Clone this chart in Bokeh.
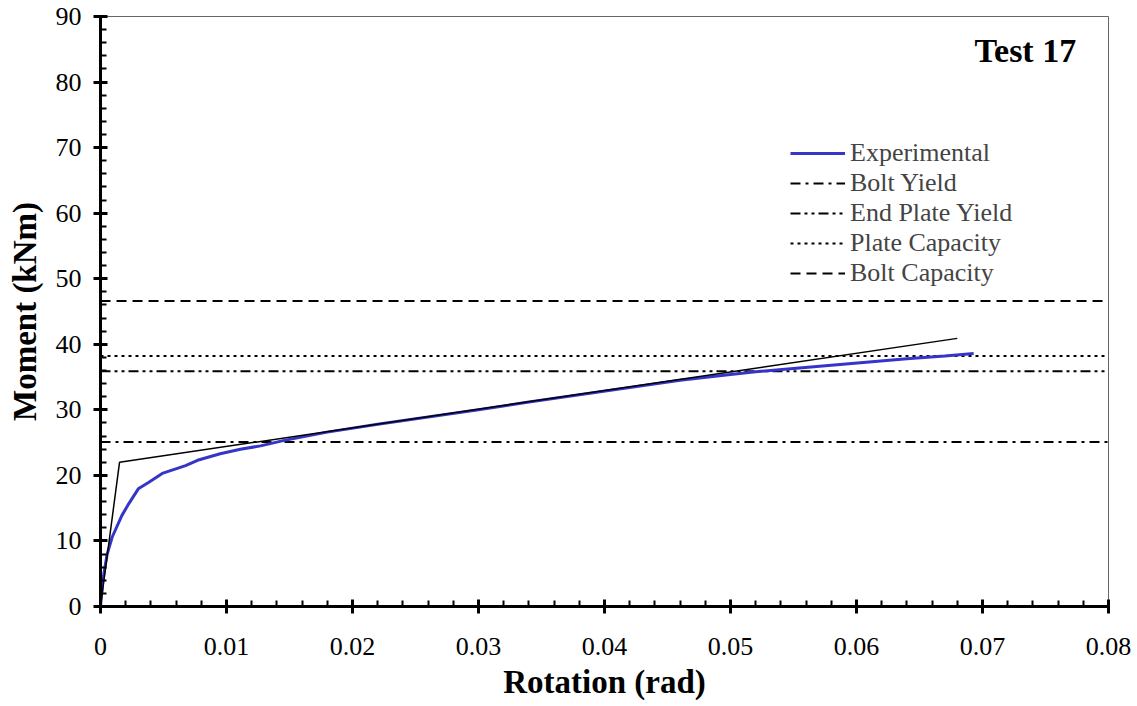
from bokeh.plotting import figure
from bokeh.models import (FixedTicker, Legend, LegendItem, Label, Range1d)
from bokeh.embed import file_html
from bokeh.resources import INLINE

# ---- data ----
exp_rot = [0, 0.00018, 0.00053, 0.00093, 0.0017, 0.00225, 0.003, 0.00384, 0.0049,
           0.00675, 0.0077, 0.0095, 0.0111, 0.0127, 0.0145, 0.018, 0.022, 0.026,
           0.030, 0.034, 0.038, 0.042, 0.046, 0.050, 0.052, 0.055, 0.058, 0.061,
           0.064, 0.067, 0.0693]
exp_mom = [0, 4.0, 8.0, 10.6, 13.9, 15.7, 17.95, 18.96, 20.3,
           21.5, 22.3, 23.3, 24.0, 24.5, 25.3, 26.6, 27.8, 28.9,
           30.0, 31.2, 32.3, 33.4, 34.5, 35.4, 35.8, 36.3, 36.8, 37.3,
           37.8, 38.2, 38.6]

bilin_rot = [0, 0.00151, 0.068]
bilin_mom = [0, 22.0, 40.9]

ref_names = ["Bolt Yield", "End Plate Yield", "Plate Capacity", "Bolt Capacity"]
ref_values = [25.1, 35.9, 38.2, 46.6]
ref_dashes = ["10 5 3 5", "10 4 3 4 3 4", "3 4", "10 6"]

x_ticks = [0, 0.01, 0.02, 0.03, 0.04, 0.05, 0.06, 0.07, 0.08]
x_labels = ["0", "0.01", "0.02", "0.03", "0.04", "0.05", "0.06", "0.07", "0.08"]
y_ticks = [0, 10, 20, 30, 40, 50, 60, 70, 80, 90]

x_min, x_max = 0, 0.08
y_min, y_max = 0, 90

FONT = "Liberation Serif"

p = figure(width=1137, height=706, output_backend="svg", toolbar_location=None,
           x_range=Range1d(x_min, x_max), y_range=Range1d(y_min, y_max),
           min_border_left=100, min_border_right=29, min_border_top=16,
           min_border_bottom=100)
p.background_fill_color = "white"
p.border_fill_color = "white"
p.outline_line_color = "#666666"
p.outline_line_width = 1
p.xgrid.visible = False
p.ygrid.visible = False

# reference lines
ref_renderers = []
for v, d in zip(ref_values, ref_dashes):
    r = p.line([x_min, x_max], [v, v], line_color="black", line_width=2, line_dash=d)
    ref_renderers.append(r)

exp_r = p.line(exp_rot, exp_mom, line_color="#3535c8", line_width=3)
p.line(bilin_rot, bilin_mom, line_color="black", line_width=1.5)

items = [LegendItem(label="Experimental", renderers=[exp_r])]
for n, r in zip(ref_names, ref_renderers):
    items.append(LegendItem(label=n, renderers=[r]))
leg = Legend(items=items, location=(690, 318), border_line_alpha=0,
             background_fill_alpha=0, padding=0, margin=0, spacing=0,
             glyph_width=55, glyph_height=30, label_height=30, label_standoff=5,
             label_text_font=FONT, label_text_font_size="26px")
p.add_layout(leg)

# axes
minor_x = [i * 0.002 for i in range(41)]
minor_y = [i * 2 for i in range(46)]
p.xaxis.ticker = FixedTicker(ticks=x_ticks, minor_ticks=minor_x)
p.yaxis.ticker = FixedTicker(ticks=y_ticks, minor_ticks=minor_y)
p.xaxis.major_label_overrides = {t: l for t, l in zip(x_ticks, x_labels)}

for ax in (p.xaxis[0], p.yaxis[0]):
    ax.axis_line_width = 3
    ax.axis_line_color = "black"
    ax.major_tick_line_width = 3
    ax.major_tick_line_color = "black"
    ax.minor_tick_line_width = 2
    ax.minor_tick_line_color = "black"
    ax.major_tick_in = 7
    ax.major_tick_out = 7
    ax.minor_tick_in = 6
    ax.minor_tick_out = 0
    ax.major_label_text_font = FONT
    ax.major_label_text_font_size = "26px"
    ax.major_label_text_color = "black"
    ax.axis_label_text_font = FONT
    ax.axis_label_text_font_size = "33px"
    ax.axis_label_text_font_style = "bold"
    ax.axis_label_text_color = "black"

p.xaxis.axis_label = "Rotation (rad)"
p.yaxis.axis_label = "Moment (kNm)"
p.xaxis.major_label_standoff = 24
p.yaxis.major_label_standoff = 12
p.xaxis.axis_label_standoff = 6
p.yaxis.axis_label_standoff = 10

title = Label(x=0.0734, y=84.8, text="Test 17", text_font=FONT,
              text_font_size="34px", text_font_style="bold",
              text_align="center", text_baseline="middle", text_color="black")
p.add_layout(title)

open("out.html", "w").write(file_html(p, INLINE))
